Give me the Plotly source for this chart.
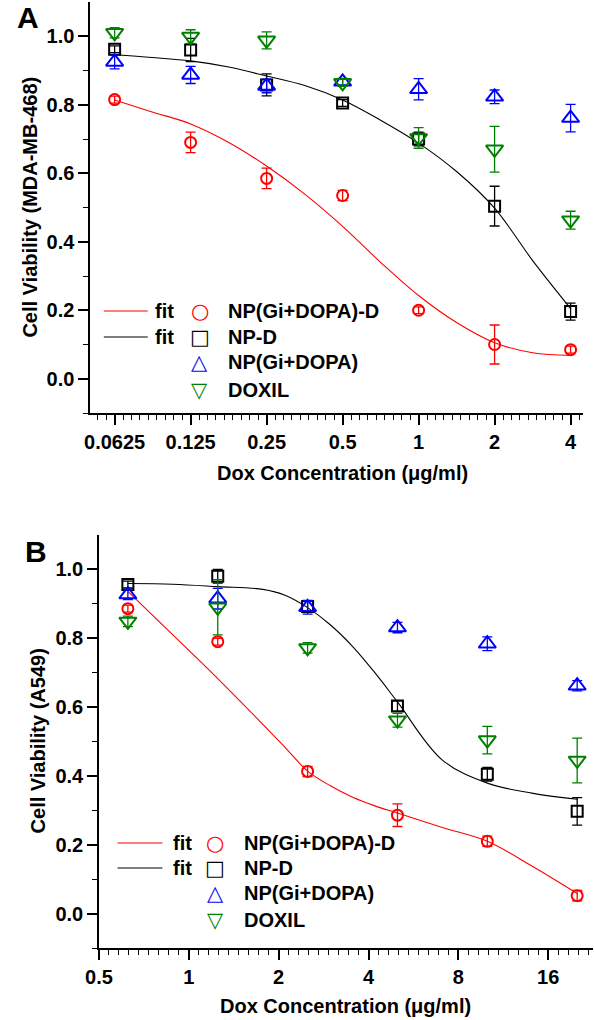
import numpy as np
import plotly.graph_objects as go

# ---------------- data: panel A (MDA-MB-468) ----------------
conc_A = [0.0625, 0.125, 0.25, 0.5, 1, 2, 4]
conc_A_labels = ["0.0625", "0.125", "0.25", "0.5", "1", "2", "4"]
A_npgd_d = [0.815, 0.69, 0.585, 0.535, 0.20, 0.10, 0.085]
A_npgd_d_err = [0.01, 0.03, 0.03, 0.015, 0.01, 0.057, 0.01]
A_np_d = [0.962, 0.96, 0.858, 0.805, 0.70, 0.504, 0.196]
A_np_d_err = [0.01, 0.034, 0.032, 0.01, 0.02, 0.058, 0.025]
A_npgd = [0.925, 0.887, 0.855, 0.867, 0.845, 0.823, 0.761]
A_npgd_err = [0.02, 0.025, 0.02, 0.01, 0.031, 0.02, 0.04]
A_doxil = [1.01, 0.999, 0.988, 0.864, 0.703, 0.67, 0.463]
A_doxil_err = [0.015, 0.02, 0.025, 0.01, 0.03, 0.067, 0.026]

fitA_x = [0.0625, 0.088, 0.125, 0.177, 0.25, 0.354, 0.5, 0.707, 1, 1.414, 2, 2.83, 4]
fitA_red = [0.814, 0.779, 0.744, 0.690, 0.621, 0.539, 0.445, 0.340, 0.243, 0.164, 0.105, 0.076, 0.068]
fitA_black = [0.946, 0.938, 0.928, 0.910, 0.884, 0.856, 0.814, 0.755, 0.688, 0.605, 0.498, 0.345, 0.205]

# ---------------- data: panel B (A549) ----------------
conc_B = [0.625, 1.25, 2.5, 5, 10, 20]
conc_B_ticks = [0.5, 1, 2, 4, 8, 16]
conc_B_labels = ["0.5", "1", "2", "4", "8", "16"]
B_npgd_d = [0.886, 0.79, 0.413, 0.286, 0.21, 0.052]
B_npgd_d_err = [0.01, 0.01, 0.015, 0.033, 0.015, 0.015]
B_np_d = [0.956, 0.98, 0.892, 0.603, 0.405, 0.297]
B_np_d_err = [0.01, 0.02, 0.015, 0.015, 0.02, 0.04]
B_npgd = [0.927, 0.915, 0.89, 0.831, 0.784, 0.662]
B_npgd_err = [0.015, 0.03, 0.02, 0.015, 0.02, 0.015]
B_doxil = [0.849, 0.89, 0.772, 0.562, 0.504, 0.445]
B_doxil_err = [0.015, 0.08, 0.015, 0.02, 0.04, 0.065]

fitB_x = [0.625, 0.884, 1.25, 1.77, 2.1, 2.5, 2.97, 3.54, 4.2, 5, 7.07, 10, 14.1, 20]
fitB_red = [0.936, 0.810, 0.683, 0.550, 0.483, 0.414, 0.372, 0.338, 0.313, 0.292, 0.250, 0.21, 0.138, 0.058]
fitB_black = [0.959, 0.957, 0.950, 0.942, 0.925, 0.889, 0.840, 0.776, 0.700, 0.615, 0.446, 0.379, 0.350, 0.332]

y_ticks = [0.0, 0.2, 0.4, 0.6, 0.8, 1.0]
y_labels = ["0.0", "0.2", "0.4", "0.6", "0.8", "1.0"]
y_minor = [-0.1, 0.1, 0.3, 0.5, 0.7, 0.9]

series_names = ["NP(Gi+DOPA)-D", "NP-D", "NP(Gi+DOPA)", "DOXIL"]
RED, BLACK, BLUE, GREEN = "#FF0000", "#000000", "#0000FF", "#008000"
colors = [RED, BLACK, BLUE, GREEN]
symbols = ["circle-open", "square-open", "triangle-up-open", "triangle-down-open"]
sizes = [11, 11, 15, 15]

W, H = 594, 1020
FONT = "Liberation Sans"

fig = go.Figure()


def add_panel(xa, ya, conc, series, errs, fit_x, fit_r, fit_b):
    fig.add_trace(go.Scatter(x=fit_x, y=fit_r, mode="lines", line=dict(color=RED, width=1.1, shape="spline"),
                             xaxis=xa, yaxis=ya, showlegend=False, hoverinfo="skip"))
    fig.add_trace(go.Scatter(x=fit_x, y=fit_b, mode="lines", line=dict(color=BLACK, width=1.1, shape="spline"),
                             xaxis=xa, yaxis=ya, showlegend=False, hoverinfo="skip"))
    for vals, err, c, s, sz in zip(series, errs, colors, symbols, sizes):
        fig.add_trace(go.Scatter(
            x=conc, y=vals, mode="markers",
            marker=dict(symbol=s, size=sz, color=c, line=dict(color=c, width=2)),
            error_y=dict(type="data", array=err, visible=True, color=c, thickness=1.3, width=5),
            xaxis=xa, yaxis=ya, showlegend=False))


add_panel("x", "y", conc_A, [A_npgd_d, A_np_d, A_npgd, A_doxil],
          [A_npgd_d_err, A_np_d_err, A_npgd_err, A_doxil_err], fitA_x, fitA_red, fitA_black)
add_panel("x2", "y2", conc_B, [B_npgd_d, B_np_d, B_npgd, B_doxil],
          [B_npgd_d_err, B_np_d_err, B_npgd_err, B_doxil_err], fitB_x, fitB_red, fitB_black)


def log2_minor(lo, hi, start):
    vals = []
    base = start / 2 ** 3
    while base < hi * 2:
        for j in range(1, 9):
            v = base * 2 ** (j / 9)
            if lo * 0.999 <= v <= hi * 1.001:
                vals.append(v)
        base *= 2
    return vals


xA_lo, xA_hi = 0.05, 4.49
xB_lo, xB_hi = 0.5, 22.6

tickfont = dict(family=FONT, size=20, color="black", weight="bold")
common_axis = dict(showline=True, linecolor="black", linewidth=1.5, ticks="outside", ticklen=10,
                   tickwidth=1.5, tickcolor="black", showgrid=False, zeroline=False, tickfont=tickfont)

fig.update_layout(
    width=W, height=H, margin=dict(l=0, r=0, t=0, b=0),
    paper_bgcolor="white", plot_bgcolor="white", showlegend=False,
    xaxis=dict(type="log", range=[np.log10(xA_lo), np.log10(xA_hi)], domain=[78 / W, 583 / W], anchor="y",
               tickmode="array", tickvals=conc_A, ticktext=conc_A_labels,
               minor=dict(tickvals=log2_minor(xA_lo, xA_hi, 0.0625), ticklen=5, tickwidth=1,
                          ticks="outside", tickcolor="black"),
               **common_axis),
    yaxis=dict(range=[-0.1, 1.1], domain=[1 - 413 / H, 1 - 2 / H], anchor="x",
               tickmode="array", tickvals=y_ticks, ticktext=y_labels,
               minor=dict(tickvals=y_minor, ticklen=5, tickwidth=1, ticks="outside", tickcolor="black"),
               **common_axis),
    xaxis2=dict(type="log", range=[np.log10(xB_lo), np.log10(xB_hi)], domain=[87 / W, 593 / W], anchor="y2",
                tickmode="array", tickvals=conc_B_ticks, ticktext=conc_B_labels,
                minor=dict(tickvals=log2_minor(xB_lo, xB_hi, 0.5), ticklen=5, tickwidth=1,
                           ticks="outside", tickcolor="black"),
                **common_axis),
    yaxis2=dict(range=[-0.1, 1.1], domain=[1 - 948 / H, 1 - 535 / H], anchor="x2",
                tickmode="array", tickvals=y_ticks, ticktext=y_labels,
                minor=dict(tickvals=y_minor, ticklen=5, tickwidth=1, ticks="outside", tickcolor="black"),
                **common_axis),
)

annotations = []
shapes = []


def txt(x, y, text, size=20, color="black", xanchor="center", angle=0, family=FONT):
    annotations.append(dict(x=x / W, y=1 - y / H, xref="paper", yref="paper", text=text, showarrow=False,
                            xanchor=xanchor, yanchor="middle", textangle=angle,
                            font=dict(family=family, size=size, color=color)))


# panel letters
txt(14, 17, "<b>A</b>", size=30)
txt(23, 551, "<b>B</b>", size=30)

# axis titles
txt(336, 473, "<b>Dox Concentration (μg/ml)</b>", size=20)
txt(340, 1006, "<b>Dox Concentration (μg/ml)</b>", size=20)
txt(16, 207, "<b>Cell Viability (MDA-MB-468)</b>", size=20, angle=-90)
txt(25, 741, "<b>Cell Viability (A549)</b>", size=20, angle=-90)

glyphs = ["○", "□", "△", "▽"]


def legend(line_x0, line_x1, fit_x, glyph_x, label_x, rows):
    for yy, c in zip(rows[:2], [RED, BLACK]):
        shapes.append(dict(type="line", xref="paper", yref="paper", x0=line_x0 / W, x1=line_x1 / W,
                           y0=1 - yy / H, y1=1 - yy / H, line=dict(color=c, width=1.2)))
        txt(fit_x, yy, "<b>fit</b>", size=20, xanchor="left")
    for g, c, name, yy in zip(glyphs, colors, series_names, rows):
        txt(glyph_x, yy, g, size=21, color=c, family="DejaVu Sans")
        txt(label_x, yy, "<b>" + name + "</b>", size=20, xanchor="left")


legend(92, 137, 142, 190, 217, [311, 337, 362, 390])
legend(106, 152, 161, 206, 234, [843, 868, 893, 920])

fig.update_layout(annotations=annotations, shapes=shapes)
fig.write_html("out.html", config={"displayModeBar": False},
               post_script="document.body.style.margin='0';document.body.style.padding='0';")
